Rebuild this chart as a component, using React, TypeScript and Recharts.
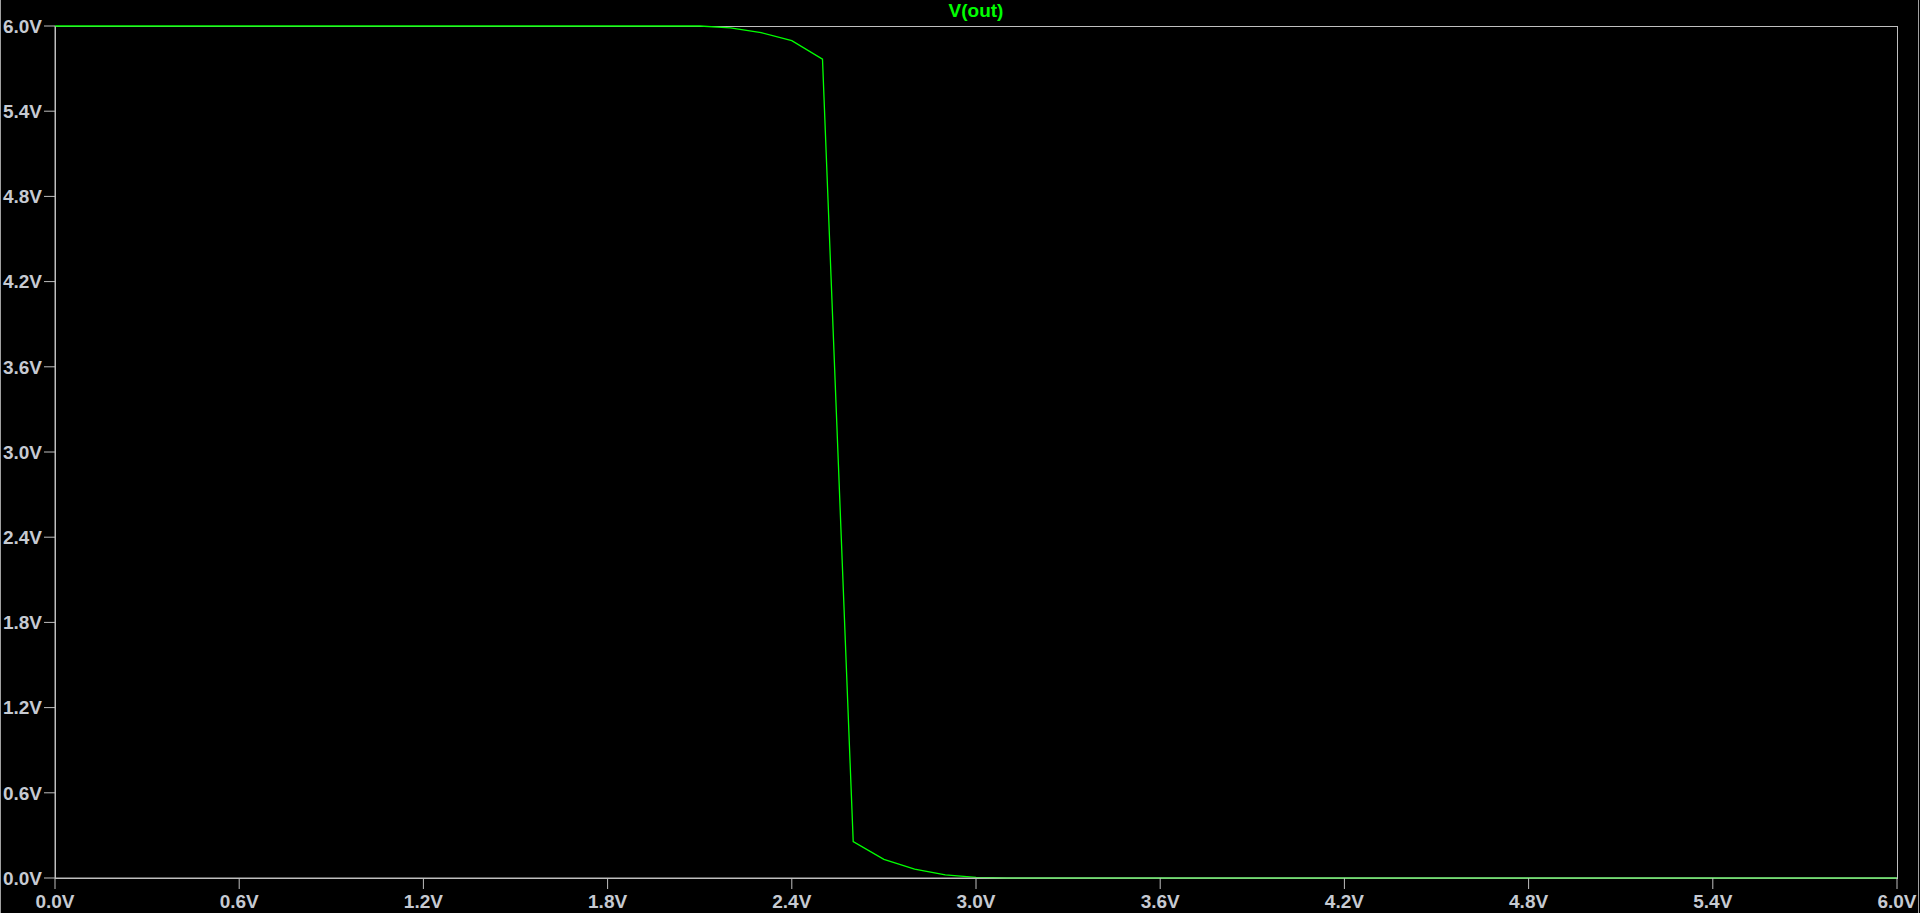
import { Line, LineChart, ReferenceArea, XAxis, YAxis } from 'recharts'

// DC sweep, Vin step 0.1 V
const vin = [
  0.0, 0.1, 0.2, 0.3, 0.4, 0.5, 0.6, 0.7, 0.8, 0.9,
  1.0, 1.1, 1.2, 1.3, 1.4, 1.5, 1.6, 1.7, 1.8, 1.9,
  2.0, 2.1, 2.2, 2.3, 2.4, 2.5, 2.6, 2.7, 2.8, 2.9,
  3.0, 3.1, 3.2, 3.3, 3.4, 3.5, 3.6, 3.7, 3.8, 3.9,
  4.0, 4.1, 4.2, 4.3, 4.4, 4.5, 4.6, 4.7, 4.8, 4.9,
  5.0, 5.1, 5.2, 5.3, 5.4, 5.5, 5.6, 5.7, 5.8, 5.9,
  6.0,
]

const vout = [
  6.0, 6.0, 6.0, 6.0, 6.0, 6.0, 6.0, 6.0, 6.0, 6.0,
  6.0, 6.0, 6.0, 6.0, 6.0, 6.0, 6.0, 6.0, 6.0, 6.0,
  6.0, 6.0, 5.987, 5.953, 5.897, 5.766, 0.256, 0.131, 0.062, 0.022,
  0.005, 0.0, 0.0, 0.0, 0.0, 0.0, 0.0, 0.0, 0.0, 0.0,
  0.0, 0.0, 0.0, 0.0, 0.0, 0.0, 0.0, 0.0, 0.0, 0.0,
  0.0, 0.0, 0.0, 0.0, 0.0, 0.0, 0.0, 0.0, 0.0, 0.0,
  0.0,
]

const axisTicks = [0, 0.6, 1.2, 1.8, 2.4, 3.0, 3.6, 4.2, 4.8, 5.4, 6.0]
const tickLabels = ['0.0V', '0.6V', '1.2V', '1.8V', '2.4V', '3.0V', '3.6V', '4.2V', '4.8V', '5.4V', '6.0V']

const data = vin.map((v, i) => ({ vin: v, vout: vout[i] }))

const labelFor = (_v: number, i: number) => tickLabels[i]

const GREY = '#bfbfbf'
const tickStyle = {
  fontSize: 19,
  fill: '#c6cad2',
  fontFamily: '"Liberation Sans", Arial, sans-serif',
  fontWeight: 'bold',
}

export default function App() {
  return (
    <div
      style={{
        position: 'fixed',
        left: 0,
        top: 0,
        width: 1920,
        height: 913,
        background: '#000',
        overflow: 'hidden',
      }}
    >
      <div style={{ position: 'absolute', left: 0, top: 0, width: 1, height: 913, background: '#a0a0a0' }} />
      <div style={{ position: 'absolute', left: 1918, top: 0, width: 1, height: 913, background: '#a0a0a0' }} />
      <div
        style={{
          position: 'absolute',
          left: 55,
          top: 0,
          width: 1842,
          textAlign: 'center',
          color: '#00ff00',
          fontFamily: '"Liberation Sans", Arial, sans-serif',
          fontWeight: 'bold',
          fontSize: 19,
          lineHeight: 'normal',
        }}
      >
        V(out)
      </div>
      <LineChart width={1920} height={913} data={data} margin={{ top: 26, right: 23, left: 0, bottom: 0 }}>
        <ReferenceArea
          x1={0}
          x2={6}
          y1={0}
          y2={6}
          fill="none"
          stroke={GREY}
          strokeWidth={1}
          shapeRendering="crispEdges"
        />
        <XAxis
          dataKey="vin"
          type="number"
          domain={[0, 6]}
          ticks={axisTicks}
          tickFormatter={labelFor}
          interval={0}
          height={35}
          tickSize={11}
          tickMargin={6}
          stroke={GREY}
          tick={tickStyle}
        />
        <YAxis
          type="number"
          domain={[0, 6]}
          ticks={axisTicks}
          tickFormatter={labelFor}
          interval={0}
          width={55}
          tickSize={11}
          tickMargin={2}
          stroke={GREY}
          tick={tickStyle}
        />
        <Line
          dataKey="vout"
          type="linear"
          stroke="#00ff00"
          strokeWidth={1.3}
          dot={false}
          isAnimationActive={false}
        />
      </LineChart>
    </div>
  )
}
